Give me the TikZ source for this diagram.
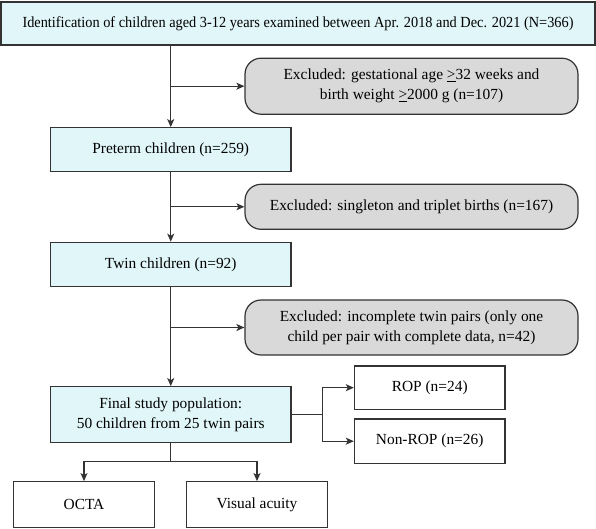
\documentclass[tikz,border=0pt]{standalone}
\usepackage{fontspec}
\setmainfont{Liberation Serif}
\usetikzlibrary{arrows.meta}
\definecolor{cyanfill}{HTML}{E0F6F8}
\definecolor{grayfill}{HTML}{D9D9D9}
\definecolor{edge}{HTML}{333333}
\tikzset{
  base/.style={draw=edge, line width=1.2pt, inner sep=0pt, align=center, font=\fontsize{15.4}{20}\selectfont},
  mainbox/.style={base, fill=cyanfill, rectangle},
  exbox/.style={base, fill=grayfill, rounded corners=16pt},
  outbox/.style={base, fill=white},
  arr/.style={draw=edge, line width=1.2pt, -{Stealth[length=8pt,width=7pt,inset=2pt]}},
  ln/.style={draw=edge, line width=1.2pt}
}
\begin{document}
\begin{tikzpicture}[x=1pt,y=-1pt]
\useasboundingbox (0,0) rectangle (596,529);
\node[mainbox, minimum width=594pt, minimum height=43pt] (top) at (298,23.5)
  {\scalebox{0.93}[1]{Identification of children aged 3-12 years examined between Apr. 2018 and Dec. 2021 (N=366)}};
\node[exbox, minimum width=333pt, minimum height=56pt] (ex1) at (411.5,86.2)
  {Excluded: gestational age \underline{>}32 weeks and\\birth weight \underline{>}2000 g (n=107)};
\node[mainbox, minimum width=240.5pt, minimum height=44pt] (pre) at (170.75,149.7)
  {Preterm children (n=259)};
\node[exbox, minimum width=333pt, minimum height=45pt] (ex2) at (411.5,206.8)
  {Excluded: singleton and triplet births (n=167)};
\node[mainbox, minimum width=240.5pt, minimum height=44.4pt] (twin) at (170.75,264.5)
  {Twin children (n=92)};
\node[exbox, minimum width=333pt, minimum height=55pt] (ex3) at (411.5,327.5)
  {Excluded: incomplete twin pairs (only one\\child per pair with complete data, n=42)};
\node[mainbox, minimum width=240.5pt, minimum height=55.6pt] (fin) at (170.75,414.5)
  {Final study population:\\50 children from 25 twin pairs};
\node[outbox, minimum width=150.6pt, minimum height=43.3pt] (rop) at (429.7,387.7)
  {ROP (n=24)};
\node[outbox, minimum width=150.6pt, minimum height=44.3pt] (nrop) at (429.7,441.2)
  {Non-ROP (n=26)};
\node[outbox, minimum width=141.5pt, minimum height=45.6pt] (octa) at (84,504.5)
  {OCTA};
\node[outbox, minimum width=141.5pt, minimum height=45.6pt] (va) at (257,504.5)
  {Visual acuity};
\coordinate (j) at (322.4,414.5);
\coordinate (b) at (170.75,461.7);
\draw[arr] (pre.north |- top.south) -- (pre.north);
\draw[arr] (pre.north |- ex1.west) -- (ex1.west);
\draw[arr] (pre.south) -- (twin.north);
\draw[arr] (pre.north |- ex2.west) -- (ex2.west);
\draw[arr] (twin.south) -- (fin.north);
\draw[arr] (twin.north |- ex3.west) -- (ex3.west);
\draw[ln] (fin.east) -- (j);
\draw[arr] (j) |- (rop.west);
\draw[arr] (j) |- (nrop.west);
\draw[ln] (fin.south) -- (b);
\draw[arr] (b) -| (octa.north);
\draw[arr] (b) -| (va.north);
\end{tikzpicture}
\end{document}
